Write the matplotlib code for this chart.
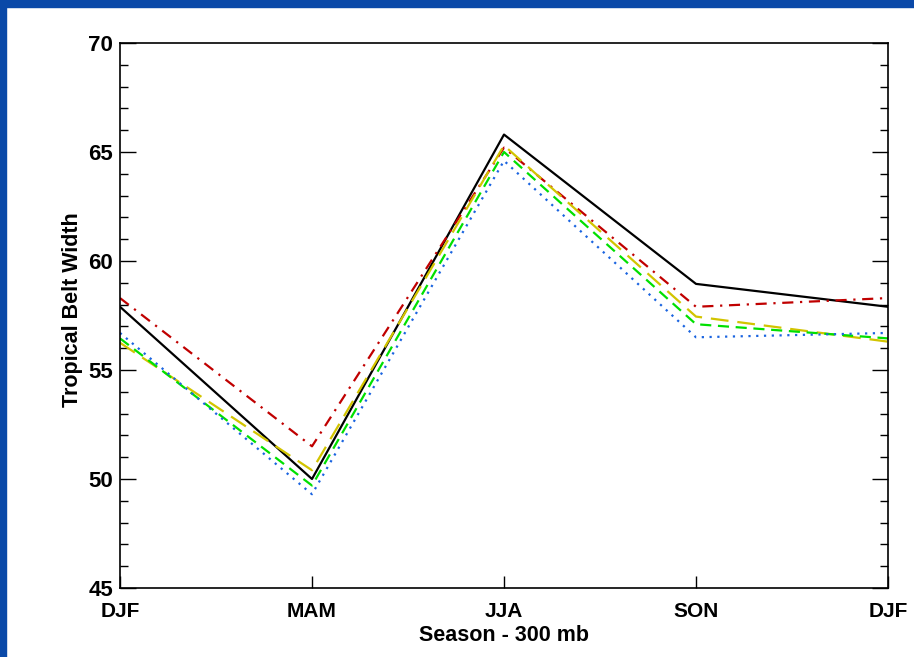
import matplotlib.pyplot as plt
from matplotlib.patches import Rectangle
from matplotlib.ticker import MultipleLocator

plt.rcParams['font.family'] = ['Liberation Sans', 'DejaVu Sans']
plt.rcParams['font.weight'] = 'bold'

# seasonal cycle, first season repeated at the end
seasons = ['DJF', 'MAM', 'JJA', 'SON', 'DJF']
black_vals = [57.9, 50.0, 65.8, 58.95, 57.9]
red_vals = [58.3, 51.5, 65.2, 57.9, 58.3]
yellow_vals = [56.25, 50.4, 65.3, 57.45, 56.3]
green_vals = [56.45, 49.7, 65.0, 57.1, 56.45]
blue_vals = [56.7, 49.3, 64.6, 56.5, 56.7]

fig = plt.figure(figsize=(9.14, 6.57), dpi=100)
fig.patch.set_facecolor('white')

# blue frame along the top and left edges
border = '#0a49a8'
fig.patches.append(Rectangle((0, 1 - 7 / 657), 1, 7 / 657, transform=fig.transFigure,
                             color=border, zorder=0))
fig.patches.append(Rectangle((0, 0), 6 / 914, 1, transform=fig.transFigure,
                             color=border, zorder=0))

ax = fig.add_axes([120 / 914, 1 - 588 / 657, 768 / 914, 545 / 657])
x = list(range(len(seasons)))

ax.plot(x, black_vals, color='black', lw=1.6, ls='-')
ax.plot(x, red_vals, color='#c00000', lw=1.6, ls=(0, (5, 3, 1, 3)))
ax.plot(x, yellow_vals, color='#d2c400', lw=1.6, ls=(0, (8, 4)))
ax.plot(x, green_vals, color='#00e000', lw=1.6, ls=(0, (5, 3)))
ax.plot(x, blue_vals, color='#1a64e0', lw=1.6, ls=(0, (1, 2.5)))

ax.set_xlim(0, 4)
ax.set_ylim(45, 70)
ax.set_xticks(x)
ax.set_xticklabels(seasons)
ax.yaxis.set_major_locator(MultipleLocator(5))
ax.yaxis.set_minor_locator(MultipleLocator(1))

ax.tick_params(axis='y', which='major', direction='in', length=11.5, width=1,
               left=True, right=True, labelsize=16, pad=5)
ax.tick_params(axis='y', which='minor', direction='in', length=5.8, width=1,
               left=True, right=True)
ax.tick_params(axis='x', which='major', direction='in', length=8.6, width=1,
               top=False, labelsize=15, pad=10)

for s in ax.spines.values():
    s.set_linewidth(1.2)

ax.set_ylabel('Tropical Belt Width', fontsize=15.5, fontweight='bold', labelpad=7)
ax.yaxis.set_label_coords(-0.048, 0.51)
ax.set_xlabel('Season - 300 mb', fontsize=15.5, fontweight='bold', labelpad=3)

fig.savefig('out.png', dpi=100, facecolor=fig.get_facecolor())
